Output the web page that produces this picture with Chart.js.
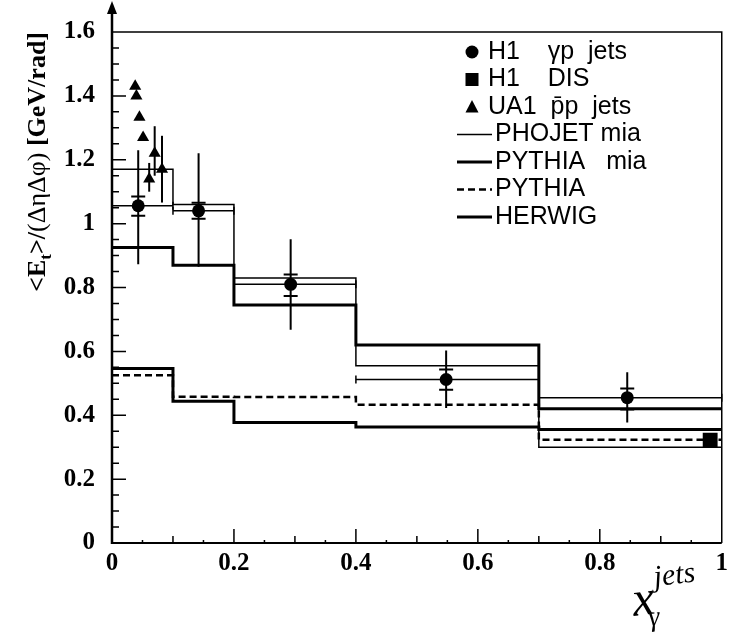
<!DOCTYPE html>
<html>
<head>
<meta charset="utf-8">
<script src="https://cdn.jsdelivr.net/npm/chart.js@4.4.1/dist/chart.umd.min.js"></script>
<style>
  html, body { margin: 0; padding: 0; background: #fff; }
</style>
</head>
<body>
<canvas id="etFlow" width="734" height="637"></canvas>
<script>
// bins in x_gamma and axis ticks
const binEdges = [0, 0.1, 0.2, 0.4, 0.7, 1.0];
const xTicks = [0, 0.2, 0.4, 0.6, 0.8, 1];
const xTickLabels = ['0', '0.2', '0.4', '0.6', '0.8', '1'];
const yTicks = [0, 0.2, 0.4, 0.6, 0.8, 1, 1.2, 1.4, 1.6];
const yTickLabels = ['0', '0.2', '0.4', '0.6', '0.8', '1', '1.2', '1.4', '1.6'];

// H1 gamma-p jets (total and statistical errors)
const h1X = [0.043, 0.142, 0.293, 0.548, 0.845];
const h1Y = [1.056, 1.04, 0.81, 0.512, 0.455];
const h1TotLo = [0.873, 0.865, 0.668, 0.423, 0.377];
const h1TotHi = [1.23, 1.22, 0.951, 0.603, 0.535];
const h1StatLo = [1.025, 1.015, 0.773, 0.48, 0.418];
const h1StatHi = [1.085, 1.065, 0.841, 0.543, 0.484];

// H1 DIS
const disX = [0.981];
const disY = [0.322];

// UA1 ppbar jets
const ua1X = [0.038, 0.040, 0.045, 0.051, 0.061, 0.070, 0.082];
const ua1Y = [1.43, 1.40, 1.333, 1.27, 1.14, 1.22, 1.17];
const ua1Lo = [null, null, null, null, 1.10, 1.15, 1.066];
const ua1Hi = [null, null, null, null, 1.19, 1.305, 1.275];

// model predictions, one value per bin
const phojetMia = [1.17, 1.06, 0.83, 0.555, 0.30];
const pythiaMia = [0.925, 0.87, 0.745, 0.62, 0.42];
const pythia = [0.525, 0.458, 0.457, 0.433, 0.323];
const herwig = [0.546, 0.444, 0.377, 0.363, 0.355];

function histPoints(vals) {
    const pts = vals.map((v, i) => ({ x: binEdges[i], y: v }));
    pts.push({ x: binEdges[binEdges.length - 1], y: vals[vals.length - 1] });
    return pts;
}
function pairs(xs, ys) {
    return xs.map((x, i) => ({ x: x, y: ys[i] }));
}

const serifBold = { family: 'Liberation Serif', size: 25, weight: 'bold' };

// inward ticks, frame, arrow, error bars, titles, legend
const decorations = {
    id: 'decorations',
    afterDatasetsDraw(chart) {
        const { ctx, chartArea: a, scales: { x, y } } = chart;
        ctx.save();
        ctx.strokeStyle = '#000';
        ctx.fillStyle = '#000';
        ctx.lineCap = 'butt';

        // error bars of H1 gamma-p points
        h1X.forEach((xv, i) => {
            const px = x.getPixelForValue(xv);
            const py = y.getPixelForValue(h1Y[i]);
            const xl = x.getPixelForValue(binEdges[i]);
            const xr = x.getPixelForValue(binEdges[i + 1]);
            ctx.lineWidth = 1.5;
            ctx.beginPath();
            ctx.moveTo(xl, py); ctx.lineTo(xr, py);
            ctx.moveTo(xl, py - 4); ctx.lineTo(xl, py + 4);
            ctx.moveTo(xr, py - 4); ctx.lineTo(xr, py + 4);
            ctx.stroke();
            ctx.lineWidth = 2;
            ctx.beginPath();
            ctx.moveTo(px, y.getPixelForValue(h1TotLo[i]));
            ctx.lineTo(px, y.getPixelForValue(h1TotHi[i]));
            [h1StatLo[i], h1StatHi[i]].forEach(v => {
                const yy = y.getPixelForValue(v);
                ctx.moveTo(px - 7, yy); ctx.lineTo(px + 7, yy);
            });
            ctx.stroke();
        });
        // UA1 error bars
        ctx.lineWidth = 2;
        ua1X.forEach((xv, i) => {
            if (ua1Lo[i] === null) return;
            const px = x.getPixelForValue(xv);
            ctx.beginPath();
            ctx.moveTo(px, y.getPixelForValue(ua1Lo[i]));
            ctx.lineTo(px, y.getPixelForValue(ua1Hi[i]));
            ctx.stroke();
        });

        // frame
        ctx.lineWidth = 1.5;
        ctx.beginPath();
        ctx.moveTo(a.left, a.top); ctx.lineTo(a.right, a.top);
        ctx.lineTo(a.right, a.bottom);
        ctx.stroke();
        ctx.lineWidth = 2;
        ctx.beginPath();
        ctx.moveTo(a.left, a.bottom); ctx.lineTo(a.right, a.bottom);
        ctx.stroke();
        ctx.lineWidth = 2.5;
        ctx.beginPath();
        ctx.moveTo(a.left, a.bottom + 1); ctx.lineTo(a.left, 10);
        ctx.stroke();
        ctx.beginPath();
        ctx.moveTo(a.left, 1); ctx.lineTo(a.left - 5, 14); ctx.lineTo(a.left + 5, 14);
        ctx.closePath();
        ctx.fill();

        // inward ticks
        ctx.lineWidth = 1.5;
        ctx.beginPath();
        for (let k = 1; k < 32; k++) {
            const yy = y.getPixelForValue(k * 0.05);
            const len = k % 4 === 0 ? 14 : 7;
            ctx.moveTo(a.left, yy); ctx.lineTo(a.left + len, yy);
        }
        for (let k = 1; k < 20; k++) {
            const xx = x.getPixelForValue(k * 0.05);
            const len = k % 4 === 0 ? 14 : (k % 2 === 0 ? 7 : 3);
            ctx.moveTo(xx, a.bottom); ctx.lineTo(xx, a.bottom - len);
        }
        ctx.stroke();

        // y title, rotated, ending near the top of the frame
        const parts = [
            ['<E', 'bold 26px "Liberation Serif"', 0],
            ['t', 'bold 17px "Liberation Serif"', 6],
            ['>/', 'bold 26px "Liberation Serif"', 0],
            ['(ΔηΔφ)', '26px "Liberation Serif"', 0],
            [' [GeV/rad]', 'bold 26px "Liberation Serif"', 0]
        ];
        let total = 0;
        parts.forEach(p => { ctx.font = p[1]; total += ctx.measureText(p[0]).width; });
        ctx.save();
        ctx.translate(45, 32);
        ctx.rotate(-Math.PI / 2);
        ctx.textBaseline = 'alphabetic';
        let cx = -total;
        parts.forEach(p => {
            ctx.font = p[1];
            ctx.fillText(p[0], cx, p[2]);
            cx += ctx.measureText(p[0]).width;
        });
        ctx.restore();

        // x title, handwritten style
        ctx.save();
        ctx.translate(634, 616);
        ctx.rotate(-0.12);
        ctx.textBaseline = 'alphabetic';
        ctx.font = 'italic 50px "Liberation Serif"';
        ctx.fillText('x', 0, 0);
        const wx = ctx.measureText('x').width;
        ctx.font = 'italic 30px "Liberation Serif"';
        ctx.fillText('jets', wx + 2, -27);
        ctx.font = 'italic 28px "Liberation Serif"';
        ctx.fillText('γ', wx - 8, 12);
        ctx.restore();

        // legend inside the frame
        ctx.font = '25px "Liberation Sans"';
        ctx.textBaseline = 'middle';
        chart.data.datasets.forEach((ds, i) => {
            const ly = 52 + i * 27.5;
            if (ds.legendMarker) {
                const mx = 472;
                ctx.beginPath();
                if (ds.legendMarker === 'circle') {
                    ctx.arc(mx, ly, 6.5, 0, Math.PI * 2);
                } else if (ds.legendMarker === 'rect') {
                    ctx.rect(mx - 6.5, ly - 6.5, 13, 13);
                } else {
                    ctx.moveTo(mx, ly - 7); ctx.lineTo(mx + 6.5, ly + 5.5); ctx.lineTo(mx - 6.5, ly + 5.5);
                    ctx.closePath();
                }
                ctx.fill();
                ctx.fillText(ds.label, 488, ly);
            } else {
                ctx.lineWidth = ds.borderWidth;
                ctx.setLineDash(ds.borderDash || []);
                ctx.beginPath();
                ctx.moveTo(457, ly); ctx.lineTo(492, ly);
                ctx.stroke();
                ctx.setLineDash([]);
                ctx.fillText(ds.label, 495, ly);
            }
        });
        ctx.restore();
    }
};

const stepLine = (label, vals, width, dash) => ({
    label: label,
    data: histPoints(vals),
    showLine: true,
    stepped: 'before',
    borderColor: '#000',
    borderWidth: width,
    borderDash: dash,
    pointRadius: 0,
    fill: false
});

new Chart(document.getElementById('etFlow'), {
    type: 'scatter',
    data: {
        datasets: [
            {
                label: 'H1    γp  jets',
                data: pairs(h1X, h1Y),
                legendMarker: 'circle',
                pointStyle: 'circle',
                pointRadius: 6.5,
                backgroundColor: '#000',
                borderWidth: 0
            },
            {
                label: 'H1    DIS',
                data: pairs(disX, disY),
                legendMarker: 'rect',
                pointStyle: 'rect',
                pointRadius: 10.5,
                backgroundColor: '#000',
                borderWidth: 0
            },
            {
                label: 'UA1  p̄p  jets',
                data: pairs(ua1X, ua1Y),
                legendMarker: 'triangle',
                pointStyle: 'triangle',
                pointRadius: 7,
                backgroundColor: '#000',
                borderWidth: 0
            },
            stepLine('PHOJET mia', phojetMia, 1.5, []),
            stepLine('PYTHIA   mia', pythiaMia, 3, []),
            stepLine('PYTHIA', pythia, 2.5, [7, 4]),
            stepLine('HERWIG', herwig, 3, [])
        ]
    },
    options: {
        responsive: false,
        animation: false,
        layout: { padding: { left: 0, top: 28, right: 12, bottom: 0 } },
        plugins: {
            legend: { display: false },
            tooltip: { enabled: false }
        },
        events: [],
        scales: {
            x: {
                type: 'linear',
                min: 0,
                max: 1,
                afterBuildTicks: s => { s.ticks = xTicks.map(v => ({ value: v })); },
                afterFit: s => { s.height = 94; },
                grid: { display: false, drawTicks: false },
                border: { display: false },
                ticks: {
                    callback: (v, i) => xTickLabels[i],
                    font: serifBold,
                    color: '#000',
                    padding: 6,
                    maxRotation: 0,
                    autoSkip: false
                }
            },
            y: {
                type: 'linear',
                min: 0,
                max: 1.6,
                afterBuildTicks: s => { s.ticks = yTicks.map(v => ({ value: v })); },
                afterFit: s => { s.width = 112; },
                grid: { display: false, drawTicks: false },
                border: { display: false },
                ticks: {
                    callback: (v, i) => yTickLabels[i],
                    font: serifBold,
                    color: '#000',
                    padding: 17,
                    autoSkip: false
                }
            }
        }
    },
    plugins: [decorations]
});
</script>
</body>
</html>
